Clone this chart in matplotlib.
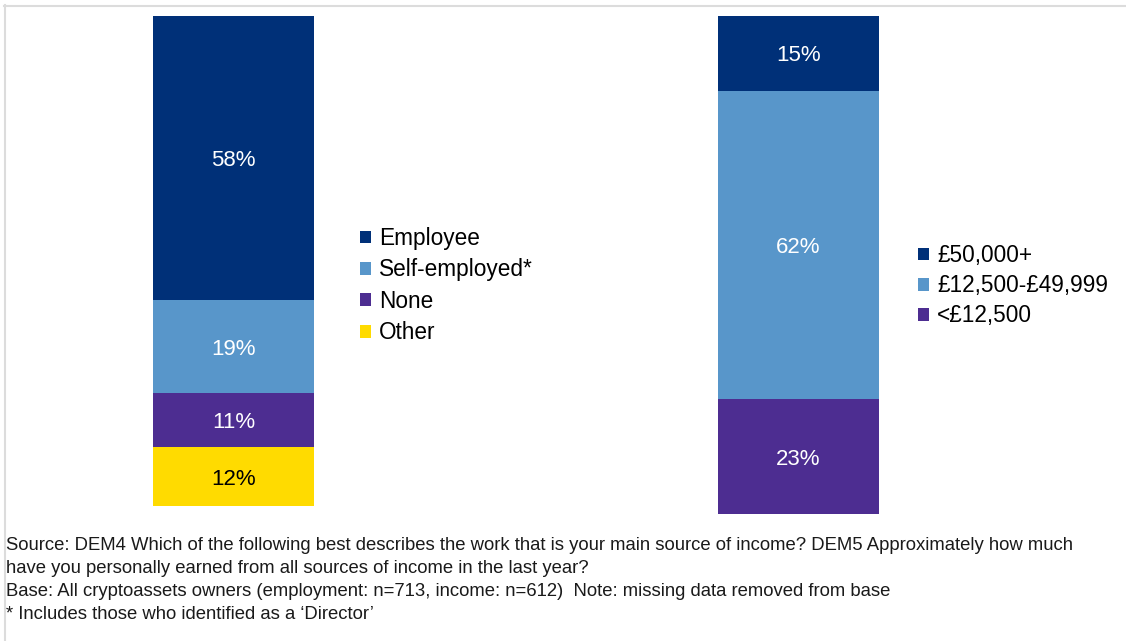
import matplotlib.pyplot as plt
from matplotlib.lines import Line2D

plt.rcParams['font.family'] = ['Liberation Sans', 'DejaVu Sans']

# employment status (bottom to top of the stack)
work_labels = ['Other', 'None', 'Self-employed*', 'Employee']
work_values = [12, 11, 19, 58]
work_colors = ['#FFDB00', '#4D2D91', '#5896CA', '#003078']

# personal income last year (bottom to top of the stack)
income_labels = ['<£12,500', '£12,500-£49,999', '£50,000+']
income_values = [23, 62, 15]
income_colors = ['#4D2D91', '#5896CA', '#003078']

footnote = [
    'Source: DEM4 Which of the following best describes the work that is your main source of income? DEM5 Approximately how much',
    'have you personally earned from all sources of income in the last year?',
    'Base: All cryptoassets owners (employment: n=713, income: n=612)  Note: missing data removed from base',
    '* Includes those who identified as a \u2018Director\u2019',
]

W, H = 1126, 641
fig = plt.figure(figsize=(W / 100, H / 100), dpi=100)


def px_axes(x0, y_top, w, y_bot):
    return fig.add_axes([x0 / W, 1 - y_bot / H, w / W, (y_bot - y_top) / H])


def stacked(ax, values, labels, colors):
    bottom = 0
    bars = []
    for v, lab, c in zip(values, labels, colors):
        b = ax.bar(0, v, width=1, bottom=bottom, color=c, label=lab)
        txt_color = 'black' if c == '#FFDB00' else 'white'
        ax.text(0, bottom + v / 2, f'{v}%', ha='center', va='center_baseline',
                fontsize=16, color=txt_color)
        bars.append(b)
        bottom += v
    ax.set_xlim(-0.5, 0.5)
    ax.set_ylim(0, 100)
    ax.axis('off')
    return bars


ax1 = px_axes(153, 16, 161, 506)
bars1 = stacked(ax1, work_values, work_labels, work_colors)
ax2 = px_axes(718, 16, 161, 514)
bars2 = stacked(ax2, income_values, income_labels, income_colors)

leg_kw = dict(loc='upper left', frameon=False, fontsize=16.3,
              handlelength=0.5, handleheight=0.5, handletextpad=0.35,
              borderpad=0, borderaxespad=0)
fig.legend(bars1[::-1], work_labels[::-1], labelspacing=0.37,
           bbox_to_anchor=(360 / W, 1 - 227 / H), **leg_kw)
fig.legend(bars2[::-1], income_labels[::-1], labelspacing=0.32,
           bbox_to_anchor=(918 / W, 1 - 244 / H), **leg_kw)

for i, line in enumerate(footnote):
    fig.text(6 / W, 1 - (545 + i * 23.2) / H, line, fontsize=13.35,
             ha='left', va='center', color='#1a1a1a')

# thin frame along the top and left edges
fig.add_artist(Line2D([4 / W, 1], [1 - 5.5 / H] * 2, color='#dcdcdc', lw=1.5))
fig.add_artist(Line2D([4.5 / W] * 2, [0, 1 - 5 / H], color='#dcdcdc', lw=1.5))

fig.savefig('out.png', dpi=100, facecolor='white')
